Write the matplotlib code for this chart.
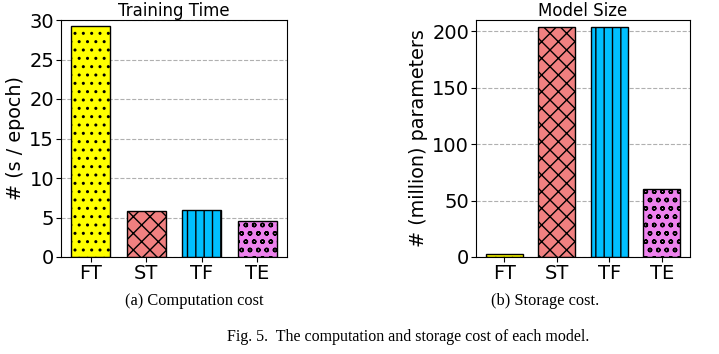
import matplotlib
matplotlib.use("Agg")
import matplotlib.pyplot as plt

models = ["FT", "ST", "TF", "TE"]
train_time = [29.3, 5.8, 5.9, 4.6]
model_size = [2.5, 204, 204, 60]
colors = ["yellow", "lightcoral", "deepskyblue", "violet"]
hatches = ["..", "xx", "||", "oo"]

fig = plt.figure(figsize=(7.19, 3.54), dpi=100)

ax1 = fig.add_axes([61/719, 97/354, 226/719, 237/354])
ax2 = fig.add_axes([476/719, 97/354, 214/719, 237/354])

def draw(ax, vals, title, ylabel, ylim, yticks):
    ax.set_axisbelow(True)
    ax.yaxis.grid(True, linestyle="--", color="#b0b0b0", linewidth=0.8)
    bars = ax.bar(models, vals, width=0.7, color=colors, edgecolor="black", linewidth=1.0)
    for b, h in zip(bars, hatches):
        b.set_hatch(h)
    ax.set_ylim(*ylim)
    ax.set_yticks(yticks)
    ax.set_title(title, fontsize=12, pad=2)
    ax.set_ylabel(ylabel, fontsize=13.8, labelpad=3)
    ax.tick_params(axis="both", labelsize=14, length=3.5, pad=1.5)

draw(ax1, train_time, "Training Time", "# (s / epoch)", (0, 30), [0, 5, 10, 15, 20, 25, 30])
draw(ax2, model_size, "Model Size", "# (million) parameters", (0, 210), [0, 50, 100, 150, 200])

serif = ["Liberation Serif", "DejaVu Serif"]
fig.text(194/719, 1 - 301/354, "(a) Computation cost", ha="center", va="center", fontsize=11.8, family=serif)
fig.text(545/719, 1 - 301/354, "(b) Storage cost.", ha="center", va="center", fontsize=11.8, family=serif)
fig.text(408/719, 1 - 337/354, "Fig. 5.  The computation and storage cost of each model.", ha="center", va="center", fontsize=11.5, family=serif)

fig.savefig("out.png", dpi=100)
